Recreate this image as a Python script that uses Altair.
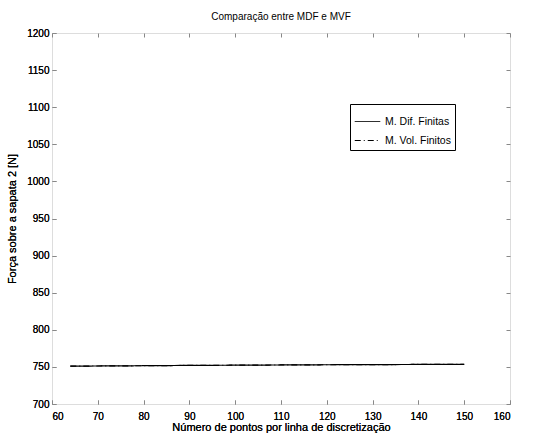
import altair as alt
import pandas as pd

# data
x_pts = [64, 72, 80, 90, 100, 110, 120, 130, 140, 150]
mdf_vals = [751.0, 751.3, 751.6, 752.0, 752.3, 752.6, 752.9, 753.1, 753.3, 753.5]
mvf_vals = [751.0, 751.3, 751.6, 752.0, 752.3, 752.6, 752.9, 753.1, 753.3, 753.5]
series = ["M. Dif. Finitas", "M. Vol. Finitos"]
x_ticks = list(range(60, 161, 10))
y_ticks = list(range(700, 1201, 50))

rows = []
for xv, yv in zip(x_pts, mdf_vals):
    rows.append({"x": xv, "y": yv, "s": series[0]})
for xv, yv in zip(x_pts, mvf_vals):
    rows.append({"x": xv, "y": yv, "s": series[1]})
df = pd.DataFrame(rows)

FONT = "Liberation Sans"
xs = alt.Scale(domain=[60, 160], nice=False)
ys = alt.Scale(domain=[700, 1200], nice=False)

x_axis = alt.Axis(values=x_ticks, title="Número de pontos por linha de discretização",
                  orient="bottom", offset=-4, tickSize=4, domain=False, labelPadding=7,
                  titlePadding=0, grid=False, format="d", titleFontWeight="normal")
y_axis = alt.Axis(values=y_ticks, title="Força sobre a sapata 2 [N]",
                  orient="left", offset=-4, tickSize=4, domain=False, labelPadding=3,
                  titlePadding=9, grid=False, format="d", titleFontWeight="normal")

color = alt.Color("s:N", sort=series, scale=alt.Scale(domain=series, range=["black", "black"]),
                  legend=alt.Legend(title=None, orient="none", legendX=298, legendY=71,
                                    symbolType="stroke", symbolSize=650, symbolStrokeWidth=1,
                                    strokeColor="black", fillColor="white", padding=4,
                                    labelFont=FONT, labelFontSize=10.5, rowPadding=0,
                                    labelOffset=4, labelLimit=200))
dash = alt.StrokeDash("s:N", sort=series,
                      scale=alt.Scale(domain=series, range=[[1, 0], [6, 3, 1, 3]]),
                      legend=None)

base = alt.Chart(df).mark_line(strokeWidth=1.2).encode(
    x=alt.X("x:Q", scale=xs, axis=x_axis),
    y=alt.Y("y:Q", scale=ys, axis=y_axis),
    color=color,
    strokeDash=dash,
)
mvf_line = base.transform_filter(alt.datum.s == series[1])
mdf_line = base.transform_filter(alt.datum.s == series[0])

frame = alt.Chart(df).mark_point(opacity=0).encode(
    x=alt.X("x:Q", scale=xs, axis=alt.Axis(values=x_ticks, orient="top", offset=-4,
                                           tickSize=4, domain=False, labels=False, title=None, grid=False)),
    y=alt.Y("y:Q", scale=ys, axis=alt.Axis(values=y_ticks, orient="right", offset=-4,
                                           tickSize=4, domain=False, labels=False, title=None, grid=False)),
)

chart = alt.layer(mvf_line, mdf_line, frame).resolve_axis(x="independent", y="independent").properties(
    width=458, height=371,
    title=alt.TitleParams("Comparação entre MDF e MVF", font=FONT, fontSize=10,
                          fontWeight="normal", offset=6, anchor="middle"),
    autosize=alt.AutoSizeParams(type="none"),
    padding={"left": 52, "top": 33, "right": 31, "bottom": 31},
).configure_view(stroke="black", strokeWidth=1).configure_axis(
    labelFont=FONT, titleFont=FONT, labelFontSize=10, titleFontSize=10,
    titleFontWeight="normal", labelColor="black", titleColor="black", tickColor="black",
).configure(background="white")

chart.save("out.html", embed_options={"renderer": "svg", "actions": False})
